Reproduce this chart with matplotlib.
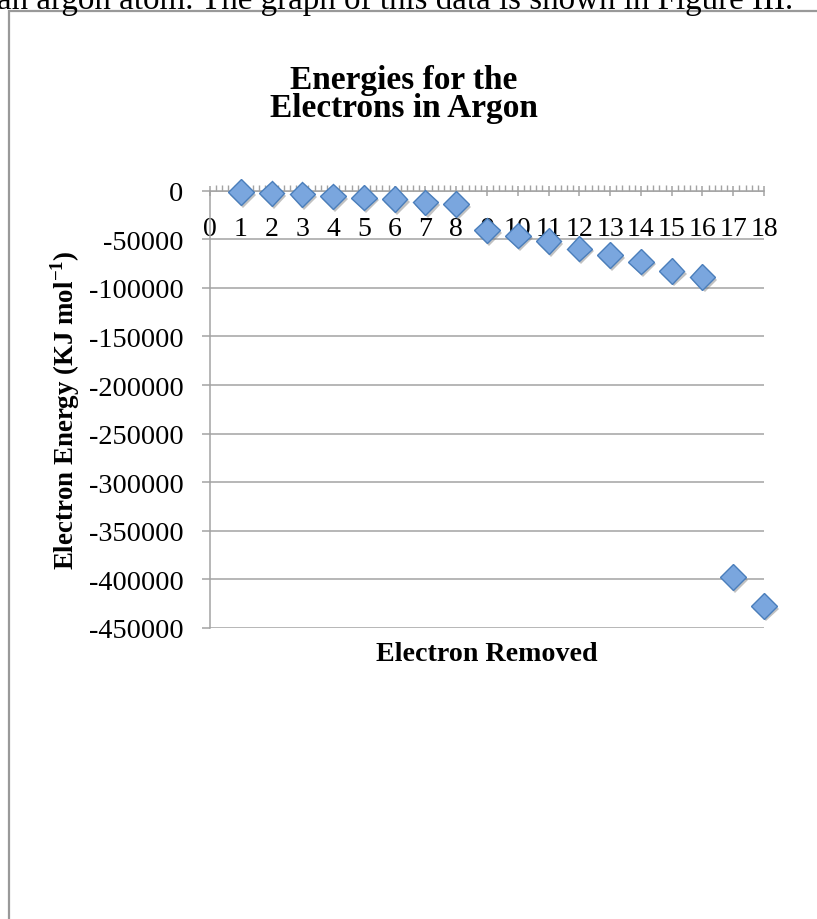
import matplotlib
matplotlib.use("Agg")
import matplotlib.pyplot as plt
import matplotlib.patheffects as pe
from matplotlib.patches import Rectangle
from matplotlib.ticker import MultipleLocator

# =========================
# DATA
# =========================
electrons = list(range(1, 19))
energy = [-1500, -2700, -3900, -5800, -7200, -8800, -12000, -13800,
          -40800, -46200, -52000, -59700, -66200, -72900, -82500, -88600,
          -397600, -427100]
x_ticks = list(range(0, 19))
y_ticks = list(range(0, -450001, -50000))
y_tick_labels = [str(v) for v in y_ticks]

title_lines = ["Energies for the", "Electrons in Argon"]
x_label = "Electron Removed"
y_label = r"Electron Energy (KJ mol$^{\mathbf{-1}}$)"
top_text = "an argon atom. The graph of this data is shown in Figure III."

# =========================
# STYLE
# =========================
W, H = 817, 920
grid_col = "#a3a3a3"
plt.rcParams["font.family"] = "Liberation Serif"
plt.rcParams["mathtext.fontset"] = "custom"
plt.rcParams["mathtext.rm"] = "Liberation Serif"
plt.rcParams["mathtext.bf"] = "Liberation Serif:bold"

fig = plt.figure(figsize=(W / 100, H / 100), dpi=100)

# chart frame (runs off the page on the right and bottom)
fig.add_artist(Rectangle((8.5 / W, -0.2), 2.0, 1.2 - 12 / H,
                         transform=fig.transFigure, fill=False,
                         edgecolor="#999999", linewidth=1.6))

# cut-off line of text above the chart
fig.text(-3 / W, 1 - 8.5 / H, top_text, ha="left", va="baseline",
         fontsize=23.8, color="black")

# =========================
# PLOT AREA
# =========================
ax = fig.add_axes([210 / W, 1 - 629 / H, (764 - 210) / W, (629 - 191.7) / H])
ax.set_xlim(0, 18)
ax.set_ylim(-450000, 0)

for s in ["top", "right"]:
    ax.spines[s].set_visible(False)
ax.spines["bottom"].set_position(("data", 0))
ax.spines["bottom"].set_color(grid_col)
ax.spines["left"].set_color(grid_col)
ax.spines["bottom"].set_linewidth(1.1)
ax.spines["left"].set_linewidth(1.1)

ax.set_xticks(x_ticks)
ax.set_xticklabels([str(v) for v in x_ticks])
ax.xaxis.set_minor_locator(MultipleLocator(0.2))
ax.tick_params(axis="x", which="major", direction="inout", length=7,
               width=1.1, color=grid_col, labelsize=20, pad=15)
ax.tick_params(axis="x", which="minor", direction="in", length=4,
               width=1.0, color=grid_col)

ax.set_yticks(y_ticks)
ax.set_yticklabels(y_tick_labels)
ax.tick_params(axis="y", direction="out", length=6, width=1.1,
               color=grid_col, labelsize=20.3, pad=13)
ax.grid(axis="y", color=grid_col, linewidth=1.1)
ax.set_axisbelow(True)

ax.plot(electrons, energy, linestyle="none", marker="D", markersize=13,
        markerfacecolor="#7aa6de", markeredgecolor="#4a7ebb",
        markeredgewidth=1.0, clip_on=False, zorder=5,
        path_effects=[pe.SimplePatchShadow(offset=(1.5, -2),
                                           shadow_rgbFace="#777777",
                                           alpha=0.45),
                      pe.Normal()])

# =========================
# TEXTS
# =========================
fig.text(404 / W, 1 - 89 / H, title_lines[0], ha="center", va="baseline",
         fontsize=24, fontweight="bold")
fig.text(404 / W, 1 - 117 / H, title_lines[1], ha="center", va="baseline",
         fontsize=24, fontweight="bold")
fig.text(487 / W, 1 - 661 / H, x_label, ha="center", va="baseline",
         fontsize=20.2, fontweight="bold")
fig.text(74 / W, 1 - 410 / H, y_label, ha="center", va="baseline",
         rotation=90, rotation_mode="anchor", fontsize=19.4, fontweight="bold")

fig.savefig("out.png", dpi=100)
